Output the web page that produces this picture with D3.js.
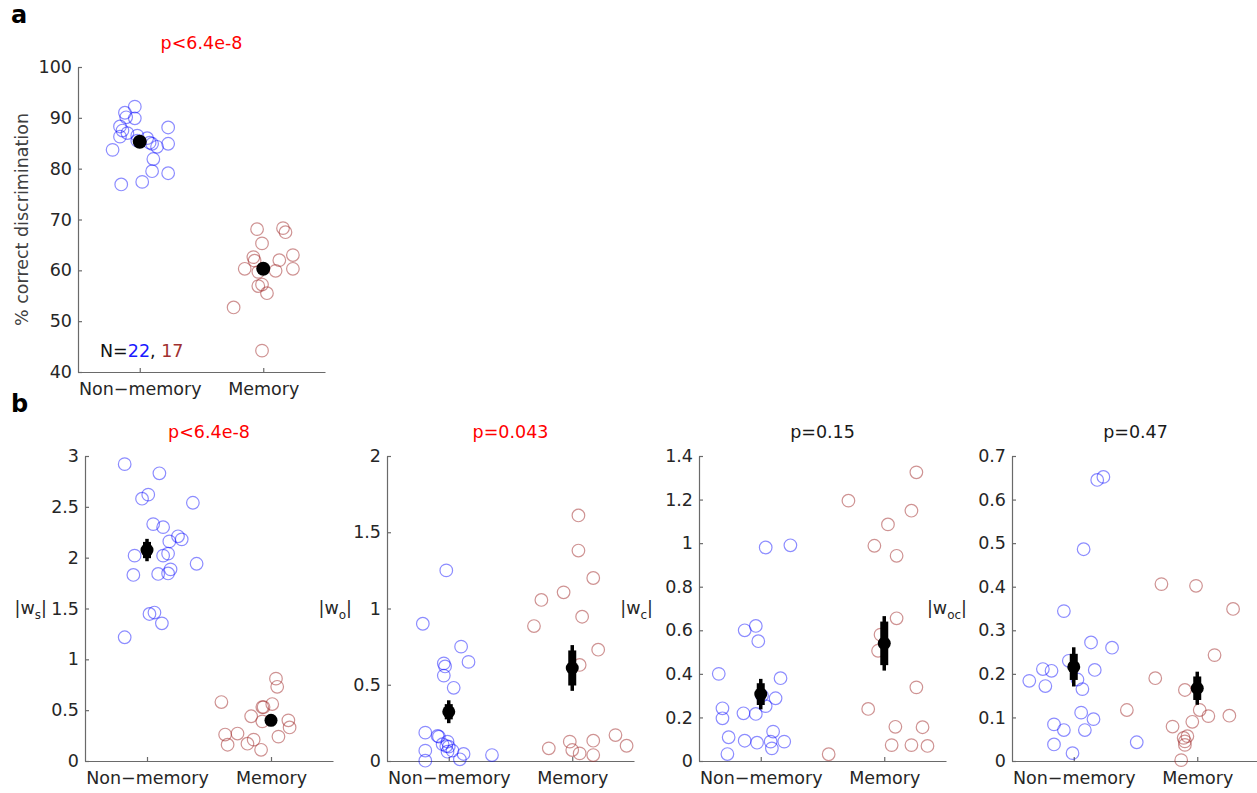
<!DOCTYPE html>
<html>
<head>
<meta charset="utf-8">
<script src="https://cdn.jsdelivr.net/npm/d3@7"></script>
<style>
  html, body { margin: 0; padding: 0; background: #fff; }
  svg { display: block; font-family: "DejaVu Sans", sans-serif; }
</style>
</head>
<body>
<svg id="chart" width="1257" height="793"></svg>
<script>
// ---------------- DATA ----------------
const categories = ["Non\u2212memory", "Memory"];

// Panel a: % correct discrimination
const aNonMem = [92.2, 91.0, 90.1, 89.9, 88.3, 87.5, 86.3, 83.7, 86.0, 85.1, 84.9, 84.3, 88.1, 84.9, 81.9, 79.5, 79.1, 77.4, 76.9, 87.0, 85.5, 86.5];
const aNonMemJit = [-0.04, -0.12, -0.11, -0.04, -0.16, -0.14, -0.16, -0.22, 0.06, 0.08, 0.10, 0.14, 0.23, 0.23, 0.11, 0.10, 0.23, 0.02, -0.15, -0.10, -0.02, -0.02];
const aMem = [68.1, 68.3, 67.5, 65.3, 62.6, 61.9, 63.0, 62.0, 60.3, 59.7, 59.9, 60.3, 57.2, 56.9, 55.5, 52.7, 44.2];
const aMemJit = [-0.05, 0.16, 0.18, -0.01, -0.08, -0.07, 0.24, 0.13, -0.15, -0.04, 0.10, 0.24, -0.01, -0.04, 0.03, -0.24, -0.01];
const aMeans = [85.3, 60.3];
const aTicks = [40, 50, 60, 70, 80, 90, 100];

// Panel b1: |w_s|
const wsNonMem = [2.92, 2.83, 2.58, 2.62, 2.54, 2.33, 2.30, 2.21, 2.18, 2.16, 2.02, 2.02, 2.04, 1.94, 1.885, 1.845, 1.84, 1.83, 1.446, 1.46, 1.354, 1.217];
const wsNonMemJit = [-0.18, 0.10, -0.04, 0.01, 0.37, 0.05, 0.13, 0.25, 0.28, 0.18, -0.10, 0.13, 0.17, 0.40, 0.19, 0.17, 0.09, -0.11, 0.02, 0.06, 0.12, -0.18];
const wsMem = [0.81, 0.73, 0.58, 0.53, 0.53, 0.56, 0.44, 0.39, 0.40, 0.33, 0.24, 0.26, 0.16, 0.27, 0.17, 0.21, 0.11];
const wsMemJit = [0.04, 0.05, -0.40, -0.07, -0.06, 0.01, -0.16, -0.07, 0.14, 0.15, 0.06, -0.37, -0.35, -0.27, -0.19, -0.14, -0.08];
const wsMeans = [2.075, 0.40];
const wsSem = [0.08, 0.04];
const wsCi = [0.11, 0.055];
const wsTicks = [0, 0.5, 1, 1.5, 2, 2.5, 3];

// Panel b2: |w_o|
const woNonMem = [1.25, 0.90, 0.75, 0.65, 0.64, 0.62, 0.56, 0.48, 0.186, 0.164, 0.16, 0.068, 0.002, 0.127, 0.098, 0.094, 0.068, 0.061, 0.046, 0.011, 0.039, 0.11];
const woNonMemJit = [-0.02, -0.21, 0.10, 0.16, -0.04, -0.03, -0.04, 0.04, -0.19, -0.09, -0.08, -0.19, -0.19, -0.01, -0.02, 0.00, 0.03, -0.01, 0.12, 0.09, 0.35, -0.05];
const woMem = [1.61, 1.38, 1.20, 1.106, 1.056, 0.885, 0.946, 0.73, 0.63, 0.083, 0.127, 0.072, 0.05, 0.133, 0.039, 0.17, 0.10];
const woMemJit = [0.05, 0.05, 0.17, -0.07, -0.25, -0.31, 0.08, 0.21, 0.06, -0.19, -0.02, 0.00, 0.06, 0.17, 0.17, 0.35, 0.44];
const woMeans = [0.323, 0.61];
const woSem = [0.05, 0.115];
const woCi = [0.075, 0.15];
const woTicks = [0, 0.5, 1, 1.5, 2];

// Panel b3: |w_c|
const wcNonMem = [0.98, 0.99, 0.40, 0.242, 0.196, 0.60, 0.62, 0.55, 0.288, 0.38, 0.252, 0.219, 0.216, 0.109, 0.032, 0.093, 0.084, 0.135, 0.089, 0.089, 0.058, 0.30];
const wcNonMemJit = [0.04, 0.24, -0.34, -0.31, -0.31, -0.13, -0.04, -0.02, 0.12, 0.16, 0.04, -0.14, -0.04, -0.26, -0.27, -0.13, -0.03, 0.10, 0.08, 0.19, 0.09, 0.01];
const wcMem = [1.195, 1.325, 1.149, 1.086, 0.988, 0.942, 0.655, 0.506, 0.338, 0.239, 0.157, 0.155, 0.073, 0.073, 0.069, 0.031, 0.58];
const wcMemJit = [-0.29, 0.26, 0.22, 0.03, -0.08, 0.10, 0.10, -0.05, 0.26, -0.13, 0.09, 0.31, 0.06, 0.22, 0.35, -0.45, -0.03];
const wcMeans = [0.307, 0.54];
const wcSem = [0.05, 0.10];
const wcCi = [0.07, 0.125];
const wcTicks = [0, 0.2, 0.4, 0.6, 0.8, 1, 1.2, 1.4];

// Panel b4: |w_oc|
const wocNonMem = [0.645, 0.652, 0.486, 0.344, 0.272, 0.26, 0.23, 0.184, 0.211, 0.207, 0.172, 0.209, 0.187, 0.165, 0.111, 0.096, 0.071, 0.071, 0.084, 0.038, 0.018, 0.043];
const wocNonMemJit = [0.19, 0.24, 0.08, -0.08, 0.14, 0.31, -0.04, -0.36, -0.25, -0.18, -0.23, 0.17, 0.03, 0.07, 0.06, 0.16, 0.09, -0.08, -0.16, -0.16, -0.01, 0.51];
const wocMem = [0.406, 0.402, 0.349, 0.19, 0.117, 0.243, 0.163, 0.117, 0.103, 0.104, 0.09, 0.079, 0.057, 0.053, 0.037, 0.002, 0.045];
const wocMemJit = [-0.29, -0.01, 0.29, -0.34, -0.57, 0.14, -0.10, 0.02, 0.09, 0.26, -0.04, -0.20, -0.08, -0.11, -0.10, -0.13, -0.10];
const wocMeans = [0.216, 0.167];
const wocSem = [0.03, 0.027];
const wocCi = [0.045, 0.038];
const wocTicks = [0, 0.1, 0.2, 0.3, 0.4, 0.5, 0.6, 0.7];

const titles = ["p<6.4e-8", "p<6.4e-8", "p=0.043", "p=0.15", "p=0.47"];
const nCounts = [22, 17];

// ---------------- STYLE / LAYOUT ----------------
const FONT = 17.5;
const BLUE = "#0000ff", RED = "#a02828";
const TXT = "#262626", AXIS = "#6a6a6a";
const svg = d3.select("#chart");

function drawPanel(p) {
  const x = d3.scaleLinear().domain([0.5, 2.5]).range([p.x0, p.x1]);
  const y = d3.scaleLinear().domain(p.domain).range([p.yBot, p.yTop]);
  const g = svg.append("g");

  const ya = d3.axisLeft(y).tickValues(p.ticks).tickFormat(d3.format("~g"))
    .tickSizeInner(-4).tickSizeOuter(0).tickPadding(6);
  const yg = g.append("g").attr("transform", `translate(${p.x0},0)`).call(ya);
  const xa = d3.axisBottom(x).tickValues([1, 2]).tickFormat((d, i) => categories[i])
    .tickSizeInner(-4).tickSizeOuter(0).tickPadding(11);
  const xg = g.append("g").attr("transform", `translate(0,${p.yBot})`).call(xa);
  [yg, xg].forEach(s => {
    s.select(".domain").attr("stroke", AXIS).attr("stroke-width", 1.2);
    s.selectAll(".tick line").attr("stroke", AXIS).attr("stroke-width", 1.2);
    s.selectAll(".tick text").attr("fill", TXT).style("font-size", FONT + "px")
      .style("font-family", "'DejaVu Sans', sans-serif");
  });

  const groups = [
    { vals: p.nonMem, jit: p.nonMemJit, c: 1, col: BLUE },
    { vals: p.mem, jit: p.memJit, c: 2, col: RED }
  ];
  groups.forEach(gr => {
    g.append("g").selectAll("circle").data(gr.vals).join("circle")
      .attr("cx", (d, i) => x(gr.c + gr.jit[i]))
      .attr("cy", d => y(d))
      .attr("r", 6.3)
      .attr("fill", "none")
      .attr("stroke", gr.col)
      .attr("stroke-opacity", gr.col === BLUE ? 0.45 : 0.5)
      .attr("stroke-width", 1.2);
  });

  p.means.forEach((m, i) => {
    const cx = x(i + 1);
    if (p.ci) {
      g.append("line").attr("x1", cx).attr("x2", cx)
        .attr("y1", y(m - p.ci[i])).attr("y2", y(m + p.ci[i]))
        .attr("stroke", "#000").attr("stroke-width", 3.5);
      g.append("line").attr("x1", cx).attr("x2", cx)
        .attr("y1", y(m - p.sem[i])).attr("y2", y(m + p.sem[i]))
        .attr("stroke", "#000").attr("stroke-width", 8);
    }
    g.append("circle").attr("cx", cx).attr("cy", y(m)).attr("r", p.meanR)
      .attr("fill", "#000");
  });

  g.append("text").attr("x", (p.x0 + p.x1) / 2).attr("y", p.yTop - 18)
    .attr("text-anchor", "middle").attr("fill", p.titleColor)
    .style("font-size", FONT + "px").text(p.title);
  return { x, y, g };
}

// Panel a
drawPanel({
  x0: 78, x1: 325, yTop: 67, yBot: 372, domain: [40, 100], ticks: aTicks,
  nonMem: aNonMem, nonMemJit: aNonMemJit, mem: aMem, memJit: aMemJit,
  means: aMeans, meanR: 7, title: titles[0], titleColor: "#ff0000"
});
svg.append("text")
  .attr("transform", `translate(28,${(67 + 372) / 2}) rotate(-90)`)
  .attr("text-anchor", "middle").attr("fill", "#404040")
  .style("font-size", "17.5px").text("% correct discrimination");
const nt = svg.append("text").attr("x", 100).attr("y", 357)
  .style("font-size", FONT + "px").attr("fill", "#111");
nt.append("tspan").text("N=");
nt.append("tspan").attr("fill", "#1a1aff").text(nCounts[0]);
nt.append("tspan").text(", ");
nt.append("tspan").attr("fill", "#a03030").text(nCounts[1]);

// Panels b
const bPanels = [
  { x0: 85, x1: 333, domain: [0, 3], ticks: wsTicks, nonMem: wsNonMem, nonMemJit: wsNonMemJit,
    mem: wsMem, memJit: wsMemJit, means: wsMeans, sem: wsSem, ci: wsCi, title: titles[1],
    titleColor: "#ff0000", sub: "s", labR: 47 },
  { x0: 387, x1: 634, domain: [0, 2], ticks: woTicks, nonMem: woNonMem, nonMemJit: woNonMemJit,
    mem: woMem, memJit: woMemJit, means: woMeans, sem: woSem, ci: woCi, title: titles[2],
    titleColor: "#ff0000", sub: "o", labR: 352 },
  { x0: 699, x1: 946, domain: [0, 1.4], ticks: wcTicks, nonMem: wcNonMem, nonMemJit: wcNonMemJit,
    mem: wcMem, memJit: wcMemJit, means: wcMeans, sem: wcSem, ci: wcCi, title: titles[3],
    titleColor: "#1a1a1a", sub: "c", labR: 653 },
  { x0: 1012, x1: 1259, domain: [0, 0.7], ticks: wocTicks, nonMem: wocNonMem, nonMemJit: wocNonMemJit,
    mem: wocMem, memJit: wocMemJit, means: wocMeans, sem: wocSem, ci: wocCi, title: titles[4],
    titleColor: "#1a1a1a", sub: "oc", labR: 967 }
];
bPanels.forEach(bp => {
  drawPanel(Object.assign({ yTop: 456, yBot: 761, meanR: 6.5 }, bp));
  const t = svg.append("text").attr("x", bp.labR).attr("y", 614)
    .attr("text-anchor", "end").attr("fill", TXT).style("font-size", FONT + "px");
  t.append("tspan").text("|w");
  t.append("tspan").attr("dy", 5).style("font-size", "12px").text(bp.sub);
  t.append("tspan").attr("dy", -5).text("|");
});

svg.append("text").attr("x", 11).attr("y", 23).style("font-size", "24px")
  .style("font-weight", "bold").attr("fill", "#000").text("a");
svg.append("text").attr("x", 11).attr("y", 412).style("font-size", "24px")
  .style("font-weight", "bold").attr("fill", "#000").text("b");
</script>
</body>
</html>
